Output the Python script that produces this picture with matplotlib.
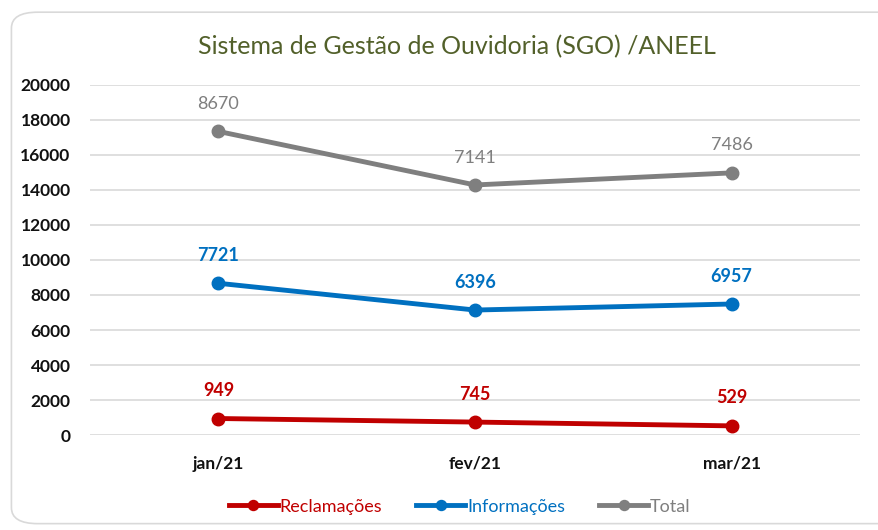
import numpy as np
import matplotlib
matplotlib.use('Agg')
import matplotlib.pyplot as plt
from matplotlib.patches import FancyBboxPatch

plt.rcParams['font.family'] = ['Lato', 'DejaVu Sans']

meses = ['jan/21', 'fev/21', 'mar/21']
reclamacoes = [949, 745, 529]
informacoes = [7721, 6396, 6957]
total = [8670, 7141, 7486]

series = [
    ('Reclamações', reclamacoes, '#c00000', 'bold'),
    ('Informações', informacoes, '#0070c0', 'bold'),
    ('Total', total, '#7f7f7f', 'normal'),
]

fig = plt.figure(figsize=(8.79, 5.30), dpi=100)
fig.patches.append(FancyBboxPatch((0.013, 0.012), 1.05, 0.965, boxstyle='round,pad=0,rounding_size=0.03',
                                  transform=fig.transFigure, facecolor='white', edgecolor='#d9d9d9',
                                  linewidth=1.2, zorder=-5))
ax = fig.add_axes([0.1024, 0.179, 0.876, 0.661])
ax.set_facecolor('none')

x = np.arange(len(meses))
base = np.zeros(len(meses))
for nome, vals, cor, peso in series:
    y = base + np.array(vals)  # linhas empilhadas
    ax.plot(x, y, color=cor, linewidth=3.5, marker='o', markersize=9, label=nome, zorder=3)
    for xi, yi, v in zip(x, y, vals):
        ax.annotate(str(v), (xi, yi), xytext=(0, 14), textcoords='offset points', ha='center',
                    va='bottom', color=cor, fontsize=13, fontweight=peso)
    base = y

ax.set_xlim(-0.5, 2.5)
ax.set_ylim(0, 20000)
ax.set_yticks(np.arange(0, 20001, 2000))
ax.set_xticks(x)
ax.set_xticklabels(meses)
ax.grid(axis='y', color='#d9d9d9', linewidth=1.2)
ax.set_axisbelow(True)
for s in ax.spines.values():
    s.set_visible(False)
ax.tick_params(length=0, labelsize=12.5)
ax.tick_params(axis='x', pad=15)
ax.tick_params(axis='y', pad=14)
for t in ax.get_xticklabels() + ax.get_yticklabels():
    t.set_fontweight('bold')
    t.set_color('#111111')

fig.text(0.52, 0.912, 'Sistema de Gestão de Ouvidoria (SGO) /ANEEL', ha='center', va='center',
         fontsize=18, color='#52602a', fontweight='normal')

leg = ax.legend(loc='upper center', bbox_to_anchor=(0.48, -0.135), ncol=3, frameon=False,
                fontsize=13, handlelength=2.7, columnspacing=1.9, handletextpad=0.1,
                markerscale=0.8)
for txt, (_, _, cor, _) in zip(leg.get_texts(), series):
    txt.set_color(cor)

fig.savefig('out.png', dpi=100)
